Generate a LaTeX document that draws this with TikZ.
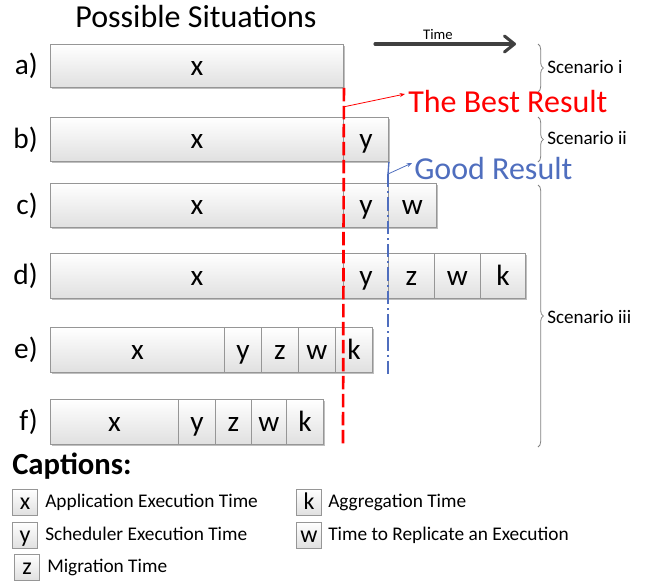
\documentclass[tikz,border=0pt]{standalone}
\usepackage{fontspec}
\setmainfont{Carlito}
\usetikzlibrary{arrows.meta,decorations.pathreplacing,shadows}

\definecolor{segline}{RGB}{150,150,150}
\definecolor{segbot}{RGB}{224,224,224}
\definecolor{bestred}{RGB}{255,0,0}
\definecolor{goodblue}{RGB}{79,110,190}
\definecolor{timegray}{RGB}{64,64,64}
\definecolor{bracegray}{RGB}{128,128,128}

% one time segment: name, x1, x2, y1, y2, letter (pixel units)
\newcommand\segbox[6]{%
  \node[seg, minimum width={(#3-#2)*0.75pt}, minimum height={(#5-#4)*0.75pt}]
    (#1) at (#2,#4) {#6};}

\begin{document}
\begin{tikzpicture}[x=0.75pt,y=-0.75pt,
  seg/.style={draw=segline, line width=0.7pt, top color=white, bottom color=segbot,
    inner sep=0pt, anchor=north west, font=\fontsize{22}{26}\selectfont,
    text height=17pt, text depth=2.8pt,
    drop shadow={shadow xshift=0.8pt, shadow yshift=-0.8pt, opacity=0.25, fill=black}},
  rowlabel/.style={inner sep=0pt, anchor=east, font=\fontsize{22}{26}\selectfont,
    text height=17pt, text depth=2.8pt},
  legbox/.style={draw=segline, line width=0.7pt, top color=white, bottom color=segbot,
    inner sep=0pt, minimum width=19pt, minimum height=19.5pt,
    font=\fontsize{18}{21}\selectfont, text height=14pt, text depth=2.4pt,
    drop shadow={shadow xshift=0.6pt, shadow yshift=-0.6pt, opacity=0.25, fill=black}},
  legtext/.style={inner sep=0pt, anchor=base west, font=\fontsize{14.5}{17}\selectfont},
  scen/.style={inner sep=0pt, anchor=base west, font=\fontsize{14.3}{17}\selectfont},
  scenbrace/.style={draw=bracegray, line width=0.6pt, decorate,
    decoration={brace, amplitude=4pt}},
  result/.style={inner sep=0pt, anchor=base west, font=\fontsize{24}{28}\selectfont}
]
\useasboundingbox (0,0) rectangle (672,583);

% title
\node[inner sep=0pt, anchor=base, font=\fontsize{24}{28}\selectfont] (title) at (196,27) {Possible Situations};

% row a
\node[rowlabel] (la) at (38,65.5) {a)};
\segbox{xa}{50}{343}{44}{87}{x}
% row b
\node[rowlabel] (lb) at (38,139) {b)};
\segbox{xb}{50}{343}{117}{161}{x}
\segbox{yb}{343}{388}{117}{161}{y}
% row c
\node[rowlabel] (lc) at (38,205) {c)};
\segbox{xc}{50}{343}{183}{227}{x}
\segbox{yc}{343}{388}{183}{227}{y}
\segbox{wc}{388}{436}{183}{227}{w}
% row d
\node[rowlabel] (ld) at (38,275.5) {d)};
\segbox{xd}{50}{343}{253}{298}{x}
\segbox{yd}{343}{388}{253}{298}{y}
\segbox{zd}{388}{434}{253}{298}{z}
\segbox{wd}{434}{480}{253}{298}{w}
\segbox{kd}{480}{525}{253}{298}{k}
% row e
\node[rowlabel] (le) at (38,349.5) {e)};
\segbox{xe}{50}{224}{327}{372}{x}
\segbox{ye}{224}{261}{327}{372}{y}
\segbox{ze}{261}{298}{327}{372}{z}
\segbox{we}{298}{335}{327}{372}{w}
\segbox{ke}{335}{372}{327}{372}{k}
% row f
\node[rowlabel] (lf) at (38,421.5) {f)};
\segbox{xf}{50}{178}{399}{444}{x}
\segbox{yf}{178}{215}{399}{444}{y}
\segbox{zf}{215}{251}{399}{444}{z}
\segbox{wf}{251}{286}{399}{444}{w}
\segbox{kf}{286}{323}{399}{444}{k}

% best result marker
\coordinate (redbot) at (343,446);
\coordinate (redknee) at (343,107);
\coordinate (redtip) at (405,94);
\draw[bestred, line width=2pt, dash pattern=on 10pt off 3.5pt] (xa.south east) -- (redbot);
\draw[bestred, line width=0.6pt, -{Stealth[length=4pt,width=3pt]}] (redknee) -- (redtip);
\node[result, text=bestred] (best) at (408,112) {The Best Result};

% good result marker
\coordinate (blueknee) at (388,174);
\coordinate (bluebot) at (388,374);
\coordinate (bluetip) at (412,163);
\draw[goodblue, line width=1pt] (yb.south east) -- (blueknee);
\draw[goodblue, line width=1.6pt, dash pattern=on 10pt off 3pt on 1.5pt off 3pt] (blueknee) -- (bluebot);
\draw[goodblue, line width=0.6pt, -{Stealth[length=4pt,width=3pt]}] (blueknee) -- (bluetip);
\node[result, text=goodblue] (good) at (414,179) {Good Result};

% time axis
\coordinate (tstart) at (375,44);
\coordinate (tend) at (516,44);
\draw[timegray, line width=2.3pt, line cap=round,
  -{Straight Barb[length=7.5pt,width=12pt,round]}] (tstart) -- (tend);
\node[inner sep=0pt, anchor=base, font=\fontsize{11}{13}\selectfont] (time) at (438,39) {Time};

% scenarios
\draw[scenbrace] (538,44) -- (538,92);
\node[scen] (s1) at (547,73) {Scenario i};
\draw[scenbrace] (538,117) -- (538,162);
\node[scen] (s2) at (547,144) {Scenario ii};
\draw[scenbrace] (538,185) -- (538,447);
\node[scen] (s3) at (547,323) {Scenario iii};

% captions
\node[inner sep=0pt, anchor=base west, font=\bfseries\fontsize{23}{27}\selectfont] (cap) at (12,474) {Captions:};
\node[legbox] (kx) at (25,502) {x};
\node[legtext] (tx) at (45,507) {Application Execution Time};
\node[legbox] (ky) at (25,535) {y};
\node[legtext] (ty) at (45,540) {Scheduler Execution Time};
\node[legbox] (kz) at (27,567) {z};
\node[legtext] (tz) at (47,572) {Migration Time};
\node[legbox] (kk) at (309,502) {k};
\node[legtext] (tk) at (328,507) {Aggregation Time};
\node[legbox] (kw) at (309,535) {w};
\node[legtext] (tw) at (328,540) {Time to Replicate an Execution};
\end{tikzpicture}
\end{document}
